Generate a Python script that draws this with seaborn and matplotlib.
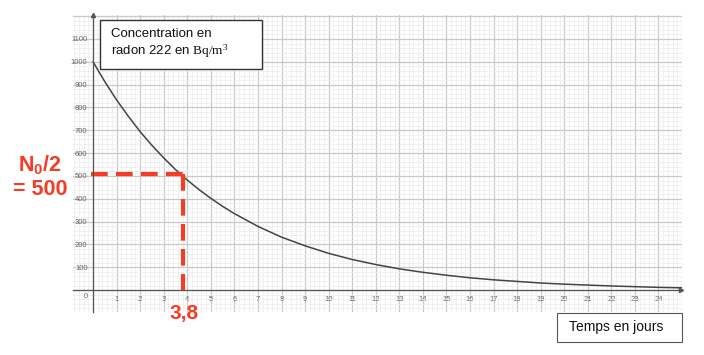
import numpy as np
import pandas as pd
import matplotlib
matplotlib.use('Agg')
import matplotlib.pyplot as plt
import seaborn as sns
from matplotlib.patches import Rectangle

# valeurs (radon 222)
jours = [0, 0.5, 1, 1.5, 2, 2.5, 3, 3.5, 4, 4.5, 5, 5.5, 6, 7, 8, 9, 10, 11, 12, 13, 14, 15, 16,
         17, 18, 19, 20, 21, 22, 23, 24, 25]
concentration = [1000, 913, 833, 761, 694, 634, 579, 528, 482, 440, 402, 367, 335, 279, 232, 194,
                 161, 134, 112, 93, 78, 65, 54, 45, 38, 31, 26, 22, 18, 15, 12, 10]
demi_vie = 3.8
moitie = 500
x_ticks = list(range(0, 26))
x_labels = [''] + [str(i) for i in range(1, 25)] + ['']
y_ticks = list(range(0, 1201, 100))
y_labels = [''] + [str(v) for v in range(100, 1101, 100)] + ['']

sns.set_theme(style='white')
plt.rcParams['font.family'] = ['Liberation Sans', 'DejaVu Sans']
plt.rcParams['mathtext.fontset'] = 'custom'
plt.rcParams['mathtext.rm'] = 'Liberation Serif'
plt.rcParams['mathtext.bf'] = 'Liberation Sans:bold'

df = pd.DataFrame({'t': jours, 'N': concentration})

fig = plt.figure(figsize=(7.04, 3.55), dpi=100)
ax = fig.add_axes([0.1037, 0.1211, 0.8651, 0.8366])
ax.set_xlim(-0.85, 24.96)
ax.set_ylim(-96, 1205)

ax.set_xticks(x_ticks)
ax.set_xticklabels(x_labels)
ax.set_yticks(y_ticks)
ax.set_yticklabels(y_labels)
ax.set_xticks(np.arange(-0.8, 25.01, 0.2), minor=True)
ax.set_yticks(np.arange(-80, 1201, 20), minor=True)
ax.grid(which='major', color='#c9c9c9', lw=0.9)
ax.grid(which='minor', color='#ececec', lw=0.5)
ax.set_axisbelow(True)
ax.tick_params(which='both', length=0, labelsize=5.5, labelcolor='#666')
ax.tick_params(axis='x', pad=4)
ax.tick_params(axis='y', pad=4)

for s in ['top', 'right']:
    ax.spines[s].set_visible(False)
ax.spines['left'].set_position(('data', 0))
ax.spines['bottom'].set_position(('data', 0))
for s in ['left', 'bottom']:
    ax.spines[s].set_color('#555')
    ax.spines[s].set_linewidth(0.9)
ax.plot(0, 1205, marker='^', ms=3, color='#555', clip_on=False)
ax.plot(24.96, 0, marker='>', ms=3, color='#555', clip_on=False)
ax.text(-0.3, -12, '0', fontsize=5.5, color='#666', ha='center', va='top')

sns.lineplot(data=df, x='t', y='N', ax=ax, color='#444', lw=1.1)
ax.set_xlabel('')
ax.set_ylabel('')

rouge = '#f43d22'
ax.plot([-0.08, demi_vie], [moitie + 7, moitie + 7], color=rouge, lw=3, dashes=(4, 2), clip_on=False)
ax.plot([demi_vie, demi_vie], [moitie + 7, -15], color=rouge, lw=3, dashes=(4, 2), clip_on=False)

fig.text(40 / 704, 1 - 165 / 355, r'N$_{\mathbf{0}}$/2', color=rouge, fontsize=15.5,
         fontweight='bold', ha='center', va='center')
fig.text(40 / 704, 1 - 190 / 355, '= 500', color=rouge, fontsize=15.5,
         fontweight='bold', ha='center', va='center')
fig.text(184 / 704, 1 - 313 / 355, '3,8', color=rouge, fontsize=15,
         fontweight='bold', ha='center', va='center')

fig.patches.append(Rectangle((100 / 704, 1 - 69 / 355), 162 / 704, 49 / 355, transform=fig.transFigure,
                             facecolor='white', edgecolor='#333', lw=1, zorder=5))
fig.text(111 / 704, 1 - 34 / 355, 'Concentration en', fontsize=9.5, color='#111',
         ha='left', va='center', zorder=6)
fig.text(111 / 704, 1 - 51 / 355, r'radon 222 en $\mathrm{Bq/m^3}$', fontsize=9.5, color='#111',
         ha='left', va='center', zorder=6)

fig.patches.append(Rectangle((557 / 704, 1 - 342 / 355), 125 / 704, 29 / 355, transform=fig.transFigure,
                             facecolor='white', edgecolor='#555', lw=0.8, zorder=5))
fig.text(569 / 704, 1 - 327 / 355, 'Temps en jours', fontsize=10, color='#111',
         ha='left', va='center', zorder=6)

fig.savefig('out.png', dpi=100)
